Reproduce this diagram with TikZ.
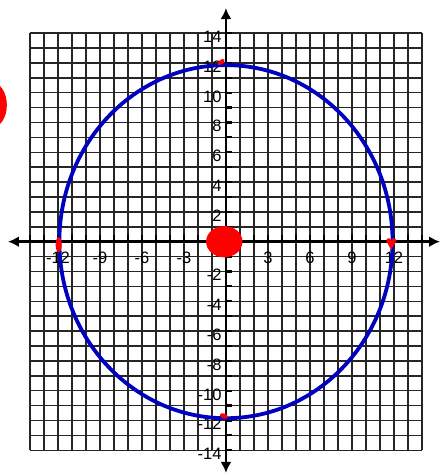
\documentclass[tikz,border=0pt]{standalone}
\usepackage{fontspec}
\setmainfont{Liberation Sans}
\usetikzlibrary{arrows.meta}

\tikzset{
	gridline/.style={line width=1.5pt, black!85},
	axisline/.style={line width=2.8pt, black, {Latex[length=11pt,width=11pt]}-{Latex[length=11pt,width=11pt]}},
	tickline/.style={line width=2.2pt, black},
	numlabel/.style={font=\fontsize{16.5}{16.5}\selectfont, inner sep=0pt},
	redmark/.style={fill=red, draw=none}
}

\begin{document}
\begin{tikzpicture}[x=14pt, y=14.9pt]
%
	\useasboundingbox (-16.14,-15.66) rectangle (15.36,16.22);
	\foreach \k in {-14,...,14} {
		\draw[gridline] (\k,-14) -- (\k,14);
		\draw[gridline] (-14,\k) -- (14,\k);
	}
%
	\coordinate (xl) at (-15.57,0);
	\coordinate (xr) at (15.29,0);
	\coordinate (yb) at (0,-15.52);
	\coordinate (yt) at (0,15.68);
	\draw[axisline] (xl) -- (xr);
	\draw[axisline] (yb) -- (yt);
%
	\foreach \k in {-14,...,-1,1,2,...,14} {
		\draw[tickline] (\k,0) -- (\k,0.45);
		\draw[tickline] (0,\k) -- (0.45,\k);
	}
%
	\foreach \k in {-12,-9,-6,-3,3,6,9,12}
		\node[numlabel] (xlab\k) at (\k,-1.1) {\k};
	\foreach \k in {-14,-12,...,-2,2,4,...,14}
		\node[numlabel, anchor=east] (ylab\k) at (-0.3,\k-0.25) {\k};
%
	\draw[line width=3.8pt, blue!75!black] (0,0) ellipse [x radius=11.9, y radius=11.85];
%
	\fill[redmark] (-0.12,0) ellipse [x radius=1.3, y radius=1.05];
	\fill[redmark, rotate around={40:(-0.35,12.05)}] (-0.35,12.05) ellipse [x radius=0.3, y radius=0.15];
	\fill[redmark, rotate around={-20:(-0.15,-11.7)}] (-0.15,-11.7) ellipse [x radius=0.3, y radius=0.17];
	\fill[redmark] (-11.95,-0.2) ellipse [x radius=0.22, y radius=0.5];
	\fill[redmark] (11.8,-0.55) -- (11.45,0.05) arc (180:0:0.18) arc (180:0:0.18) -- cycle;
	\fill[redmark] (-16.7,9.17) ellipse [x radius=1.05, y radius=1.5];
\end{tikzpicture}
\end{document}
